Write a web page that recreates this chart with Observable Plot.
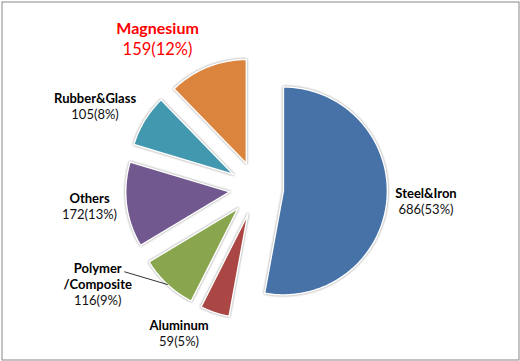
<!DOCTYPE html>
<html>
<head>
<meta charset="utf-8">
<script src="https://cdn.jsdelivr.net/npm/d3@7"></script>
<script src="https://cdn.jsdelivr.net/npm/@observablehq/plot@0.6"></script>
<style>
  html, body { margin: 0; padding: 0; background: #fff; }
  #chart { width: 520px; height: 361px; }
</style>
</head>
<body>
<div id="chart"></div>
<script>
// ---- data (clockwise from 12 o'clock) ----
const names   = ["Steel&Iron", "Aluminum", "Polymer\n/Composite", "Others", "Rubber&Glass", "Magnesium"];
const values  = [686, 59, 116, 172, 105, 159];
const colors  = ["#4672A8", "#AA4643", "#89A54E", "#71588F", "#4198AF", "#DB843D"];
const highlight = "Magnesium";

// ---- layout ----
const W = 520, H = 361;
const center = [256, 188];
const radius = 104;
const explode = 27;
// label placement relative to slice bisector: [angle nudge (deg), distance from centre]
const labelNudge = [[-0.8, 170], [9.4, 165], [13.8, 190], [0.8, 168], [-4.4, 181], [-11.5, 179]];

const total = d3.sum(values);
const arcs = d3.pie().sort(null).value(d => d)(values);
const dir = a => [Math.sin(a), -Math.cos(a)];

const polys = [];
const lines = [];
let leader = [];
arcs.forEach((a, i) => {
  const mid = (a.startAngle + a.endAngle) / 2;
  const [mx, my] = dir(mid);
  const cx = center[0] + explode * mx, cy = center[1] + explode * my;
  polys.push({name: names[i], i, x: cx, y: cy});
  const n = Math.max(2, Math.ceil((a.endAngle - a.startAngle) / (Math.PI / 180)));
  for (let k = 0; k <= n; k++) {
    const t = a.startAngle + (a.endAngle - a.startAngle) * k / n;
    const [dx, dy] = dir(t);
    polys.push({name: names[i], i, x: cx + radius * dx, y: cy + radius * dy});
  }
  polys.push({name: names[i], i, x: cx, y: cy});

  const [na, nr] = labelNudge[i];
  const [lx, ly] = dir(mid + na * Math.PI / 180);
  const ax = center[0] + nr * lx, ay = center[1] + nr * ly;
  const hi = names[i] === highlight;
  const step = hi ? 20 : 16;
  const nameLines = names[i].split("\n");
  nameLines.forEach((t, k) => {
    lines.push({x: ax, y: ay - step / 2 - step * (nameLines.length - 1 - k), text: t, bold: true, hi});
  });
  lines.push({x: ax, y: ay + step / 2, text: `${values[i]}(${Math.round(values[i] / total * 100)}%)`, bold: false, hi});
  if (nameLines.length > 1) {
    leader = [{x: ax + 27, y: ay - 21}, {x: cx + radius * mx, y: cy + radius * my}];
  }
});

const chart = Plot.plot({
  width: W, height: H,
  margin: 0,
  x: {domain: [0, W], range: [0, W], axis: null},
  y: {domain: [0, H], range: [0, H], axis: null},
  style: {fontFamily: "Lato, 'Open Sans', sans-serif", background: "#fff"},
  marks: [
    Plot.frame({stroke: "#888", inset: 1.5}),
    Plot.line(polys, {x: "x", y: "y", z: "name", fill: d => colors[d.i], stroke: "#fff", strokeWidth: 1.5, strokeLinejoin: "round"}),
    Plot.line(leader, {x: "x", y: "y", stroke: "#000", strokeWidth: 0.8}),
    Plot.text(lines.filter(d => !d.hi && d.bold), {x: "x", y: "y", text: "text", fontWeight: "bold", fontSize: 13, fill: "#000"}),
    Plot.text(lines.filter(d => !d.hi && !d.bold), {x: "x", y: "y", text: "text", fontSize: 13, fill: "#111"}),
    Plot.text(lines.filter(d => d.hi && d.bold), {x: "x", y: "y", text: "text", fontWeight: "bold", fontSize: 16, fill: "#FF0000"}),
    Plot.text(lines.filter(d => d.hi && !d.bold), {x: "x", y: "y", text: "text", fontSize: 16.5, fill: "#FF0000"})
  ]
});

d3.select(chart).selectAll("g[aria-label='line']").filter((d, i) => i === 0)
  .selectAll("path").style("filter", "drop-shadow(0px 0px 1.2px rgba(0,0,0,0.45))");

document.getElementById("chart").appendChild(chart);
</script>
</body>
</html>
